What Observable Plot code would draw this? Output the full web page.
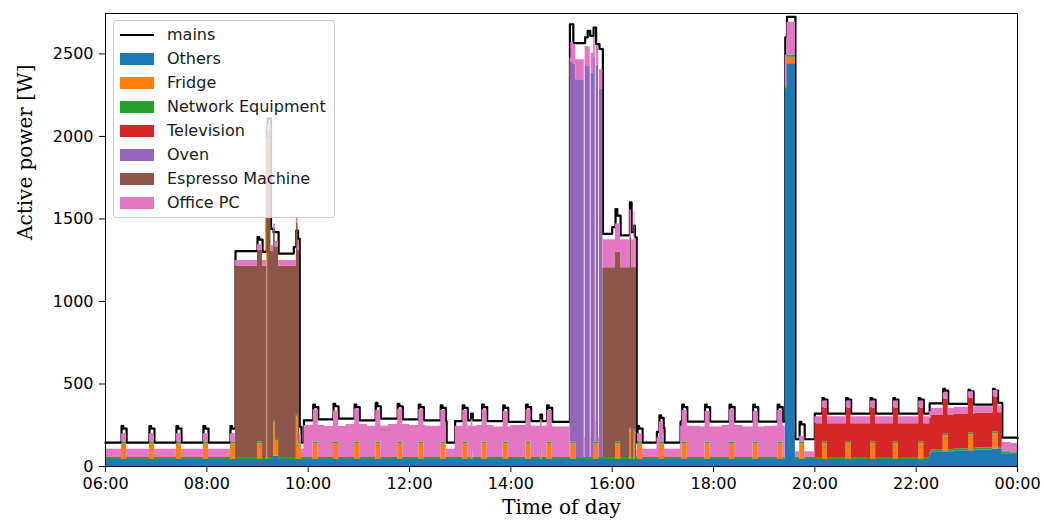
<!DOCTYPE html>
<html>
<head>
<meta charset="utf-8">
<script src="https://cdn.jsdelivr.net/npm/d3@7"></script>
<script src="https://cdn.jsdelivr.net/npm/@observablehq/plot@0.6"></script>
<style>
  html, body { margin: 0; padding: 0; background: #fff; }
  #wrap { position: relative; width: 1044px; height: 530px; }
  #legend { position: absolute; left: 113px; top: 20px; width: 220px; height: 196px;
    background: rgba(255,255,255,0.8); border: 1px solid #cccccc; border-radius: 3px;
    font-family: "DejaVu Sans", sans-serif; font-size: 16px; color: #1a1a1a; }
  .row { position: absolute; left: 0; height: 24px; width: 100%; }
  .sw { position: absolute; left: 6px; top: 6px; width: 34px; height: 12px; }
  .ln { position: absolute; left: 6px; top: 11px; width: 34px; height: 2px; background: #000; }
  .lb { position: absolute; left: 53px; top: 2px; line-height: 20px; white-space: nowrap; }
</style>
</head>
<body>
<div id="wrap"><div id="chart"></div><div id="legend"></div></div>
<script>
// ---- data ----
const categories = ["Others", "Fridge", "Network Equipment", "Television", "Oven", "Espresso Machine", "Office PC"];
const colors = ["#1f77b4", "#ff7f0e", "#2ca02c", "#d62728", "#9467bd", "#8c564b", "#e377c2"];
const xTickLabels = ["06:00","08:00","10:00","12:00","14:00","16:00","18:00","20:00","22:00","00:00"];
const yTicks = [0, 500, 1000, 1500, 2000, 2500];

// step breakpoints [time, watts]; each value holds until the next breakpoint
const others = [["06:00",42],["09:19",62],["09:25",42],["19:25",2280],["19:27",2440],["19:37",42],
  ["22:16",72],["22:18",90],["22:45",96],["23:10",100],["23:30",104],["23:42",78],["23:52",72]];
const fridge = [["06:00",0],
  ["06:19",95],["06:25",0],["06:52",95],["06:58",0],["07:24",95],["07:30",0],["07:56",95],["08:02",0],
  ["08:28",95],["08:34",0],["09:00",95],["09:06",0],["09:11",1900],["09:12",0],
  ["09:19",200],["09:21",95],["09:25",0],["09:46",260],["09:48",95],["09:52",0],
  ["10:06",95],["10:12",0],["10:30",95],["10:36",0],["10:55",95],["11:01",0],["11:20",95],["11:26",0],
  ["11:46",95],["11:52",0],["12:11",95],["12:17",0],["12:37",95],["12:43",0],["13:03",95],["13:09",0],
  ["13:13",40],["13:15",0],["13:26",95],["13:32",0],["13:51",95],["13:57",0],["14:18",95],["14:24",0],
  ["14:35",40],["14:37",0],["14:43",95],["14:49",0],["15:11",95],["15:17",0],["15:38",95],["15:44",0],
  ["16:04",95],["16:10",0],["16:21",180],["16:23",0],["16:26",170],["16:27",0],["16:30",95],["16:36",0],
  ["16:56",95],["17:02",0],["17:23",95],["17:29",0],["17:50",95],["17:56",0],["18:19",95],["18:25",0],
  ["18:47",95],["18:53",0],["19:16",95],["19:22",0],["19:27",40],["19:37",0],["19:42",95],["19:48",0],
  ["20:09",95],["20:15",0],["20:37",95],["20:43",0],["21:06",95],["21:12",0],["21:33",95],["21:39",0],
  ["22:03",95],["22:09",0],["22:32",95],["22:38",0],["23:02",95],["23:08",0],["23:31",95],["23:37",0]];
const network = [["06:00",12]];
const television = [["06:00",0],["20:00",205],["22:16",210],["23:42",0]];
const oven = [["06:00",0],["15:10",2300],["15:14",2290],["15:27",0],["15:28",2370],["15:34",0],
  ["15:35",2330],["15:40",0],["15:41",2280],["15:44",0],["15:45",2230],["15:49",0]];
const espresso = [["06:00",0],["08:34",1160],["09:11",0],["09:12",1980],["09:16",1250],["09:19",1160],
  ["09:50",0],["15:49",1150],["16:29",0]];
const officePC = [["06:00",50],["08:34",35],["09:50",50],["09:55",195],["10:20",188],["10:45",200],
  ["11:10",190],["11:35",200],["12:00",195],["12:20",190],["12:44",50],["12:54",190],["13:20",195],
  ["13:40",185],["14:00",195],["14:25",190],["14:50",185],["15:10",120],["15:49",170],["16:29",50],
  ["16:53",120],["17:01",50],["17:21",190],["17:45",185],["18:10",195],["18:35",185],["19:00",190],
  ["19:25",200],["19:37",35],["20:00",43],["22:16",40],["23:42",55]];
const mains = [["06:00",145],
  ["06:19",245],["06:21",230],["06:25",145],["06:52",245],["06:54",230],["06:58",145],
  ["07:24",245],["07:26",230],["07:30",145],["07:56",245],["07:58",230],["08:02",145],
  ["08:28",245],["08:30",230],["08:34",1305],["09:00",1390],["09:02",1375],["09:06",1300],
  ["09:11",2050],["09:12",2110],["09:16",1440],["09:19",1420],["09:25",1290],["09:43",1330],
  ["09:46",1430],["09:48",1380],["09:50",240],["09:52",145],["09:55",280],
  ["10:06",375],["10:08",360],["10:12",285],["10:30",380],["10:32",365],["10:36",290],
  ["10:55",375],["10:57",360],["11:01",280],["11:20",385],["11:22",365],["11:26",290],
  ["11:46",380],["11:48",365],["11:52",285],["12:11",375],["12:13",360],["12:17",280],
  ["12:37",370],["12:39",355],["12:43",275],["12:44",145],["12:54",275],
  ["13:03",370],["13:05",355],["13:09",280],["13:13",320],["13:15",280],
  ["13:26",375],["13:28",360],["13:32",275],["13:51",370],["13:53",355],["13:57",270],
  ["14:18",375],["14:20",360],["14:24",275],["14:35",315],["14:37",275],
  ["14:43",370],["14:45",355],["14:49",270],
  ["15:10",2680],["15:14",2565],["15:28",2600],["15:31",2640],["15:34",2610],["15:38",2660],
  ["15:41",2560],["15:45",2530],["15:49",1410],["16:00",1450],["16:04",1560],["16:06",1520],
  ["16:10",1400],["16:21",1600],["16:23",1420],["16:26",1460],["16:27",1390],
  ["16:29",145],["16:30",245],["16:32",230],["16:36",145],
  ["16:53",210],["16:56",310],["16:58",295],["17:01",235],["17:02",145],["17:21",272],
  ["17:23",375],["17:25",360],["17:29",272],["17:50",375],["17:52",360],["17:56",272],
  ["18:19",375],["18:21",360],["18:25",272],["18:47",375],["18:49",360],["18:53",272],
  ["19:16",375],["19:18",360],["19:22",272],["19:25",2600],["19:27",2725],["19:37",165],
  ["19:42",270],["19:44",255],["19:48",165],["20:00",320],
  ["20:09",415],["20:11",405],["20:15",320],["20:37",415],["20:39",405],["20:43",320],
  ["21:06",415],["21:08",405],["21:12",320],["21:33",415],["21:35",405],["21:39",320],
  ["22:03",415],["22:05",405],["22:09",320],["22:16",382],
  ["22:32",470],["22:34",460],["22:38",380],["23:02",465],["23:04",455],["23:08",375],
  ["23:31",470],["23:33",460],["23:37",385],["23:42",175],["24:00",170]];

// ---- build tables ----
const T = s => { const [h, m] = s.split(":").map(Number); return new Date(Date.UTC(2020, 0, 1, h, m)); };
const seriesList = [others, fridge, network, television, oven, espresso, officePC];
const stepAt = (series, t) => { let v = 0; for (const [s, val] of series) { if (T(s) <= t) v = val; else break; } return v; };
const timeKeys = new Set(["06:00", "24:00"]);
seriesList.forEach(sr => sr.forEach(([s]) => timeKeys.add(s)));
const times = [...timeKeys].map(T).sort((a, b) => a - b);
const table = times.flatMap(t => categories.map((c, i) => ({time: t, category: c, value: stepAt(seriesList[i], t)})));
const mainsRows = mains.map(([s, v]) => ({time: T(s), value: v}));
const xTicks = xTickLabels.map((s, i) => T((6 + 2 * i) + ":00"));

const chart = Plot.plot({
  width: 1044, height: 530,
  marginLeft: 105, marginRight: 27, marginTop: 13, marginBottom: 64,
  style: {fontFamily: "DejaVu Sans, sans-serif", fontSize: "16px", color: "black", background: "white"},
  x: {type: "utc", domain: [T("06:00"), T("24:00")], label: null},
  y: {domain: [0, 2745], label: null},
  color: {domain: categories, range: colors},
  marks: [
    Plot.line(mainsRows, {x: "time", y: "value", stroke: "black", strokeWidth: 2.2, curve: "step-after"}),
    Plot.areaY(table, {x: "time", y: "value", fill: "category", order: categories, curve: "step-after"}),
    Plot.frame({stroke: "black", strokeWidth: 1}),
    Plot.axisY({ticks: yTicks, tickSize: 6, tickPadding: 6, tickFormat: d3.format("d"), label: null}),
    Plot.axisX({ticks: xTicks, tickSize: 6, tickPadding: 5, tickFormat: (d, i) => xTickLabels[i], label: null}),
    Plot.text(["Active power [W]"], {frameAnchor: "left", dx: -80, rotate: -90, fontFamily: "DejaVu Serif, serif", fontSize: 20, fill: "black"}),
    Plot.text(["Time of day"], {frameAnchor: "bottom", dy: 47, fontFamily: "DejaVu Serif, serif", fontSize: 20, fill: "black"})
  ]
});
document.getElementById("chart").appendChild(chart);

// ---- legend ----
const leg = document.getElementById("legend");
const entries = [{label: "mains", line: true}].concat(categories.map((c, i) => ({label: c, color: colors[i]})));
entries.forEach((e, i) => {
  const row = document.createElement("div");
  row.className = "row";
  row.style.top = (2 + i * 24) + "px";
  const mark = document.createElement("div");
  if (e.line) mark.className = "ln"; else { mark.className = "sw"; mark.style.background = e.color; }
  const lb = document.createElement("div");
  lb.className = "lb"; lb.textContent = e.label;
  row.appendChild(mark); row.appendChild(lb); leg.appendChild(row);
});
</script>
</body>
</html>
